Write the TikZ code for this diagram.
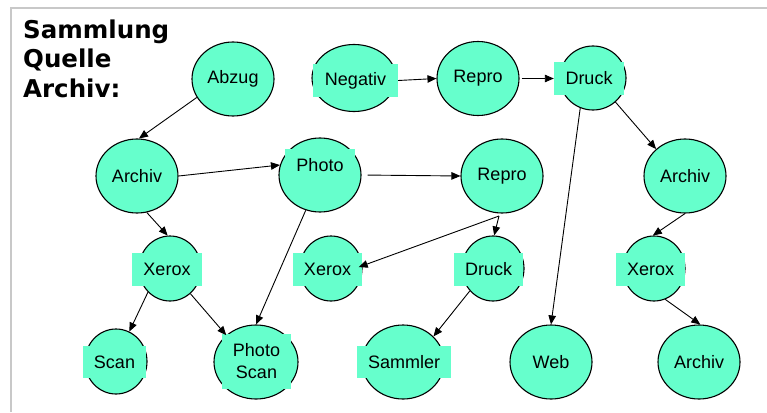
\documentclass[tikz,border=0pt]{standalone}
\usepackage{fontspec}
\setmainfont{Liberation Sans}
\newfontfamily\titlefont{DejaVu Sans}
\usetikzlibrary{shapes.geometric,arrows.meta}
\definecolor{aqua}{HTML}{66FFCC}
\definecolor{framegray}{HTML}{C8C8C8}
\tikzset{
  ell/.style={ellipse, draw=black, fill=aqua, line width=1.1pt, inner sep=0pt, minimum width=82pt, minimum height=74pt},
  ells/.style={ell, minimum width=62pt, minimum height=65pt},
  txt/.style={inner sep=0pt, font=\fontsize{18}{22}\selectfont},
  lbl/.style={txt, fill=aqua, minimum height=33pt},
  ttl/.style={anchor=base west, inner sep=0pt, font=\titlefont\bfseries\fontsize{24.5}{29}\selectfont},
  arr/.style={-{Triangle[length=9pt,width=7.5pt]}, line width=0.9pt},
}
\begin{document}
\begin{tikzpicture}[x=1pt,y=-1pt]
\useasboundingbox (0,0) rectangle (767,412);
\draw[framegray, line width=2pt] (11,412) -- (11,8) -- (767,8);
% title
\node[ttl] (t1) at (23,38) {Sammlung};
\node[ttl] (t2) at (23,67.5) {Quelle};
\node[ttl] (t3) at (23,97) {Archiv:};
% ellipses
\node[ell] (abzug) at (233,79) {};
\node[ell, minimum width=84pt, minimum height=67pt] (neg) at (354,78) {};
\node[ell] (reproT) at (478,78.5) {};
\node[ell, minimum width=66pt, minimum height=64pt] (druckT) at (593,78) {};
\node[ell] (archivL) at (137,176) {};
\node[ell] (photo) at (320,175) {};
\node[ell] (reproM) at (502,176) {};
\node[ell] (archivR) at (685,176) {};
\node[ells] (xeroxL) at (170,268.5) {};
\node[ells] (xeroxM) at (331,268.5) {};
\node[ells] (druckM) at (493,268.5) {};
\node[ells] (xeroxR) at (654,268.5) {};
\node[ells] (scan) at (116,361.5) {};
\node[ell, minimum width=84pt] (pscan) at (256,362) {};
\node[ell] (sammler) at (403,362) {};
\node[ell] (web) at (551,362) {};
\node[ell] (archivB) at (699,362) {};
% labels
\node[txt] (abzugL) at (abzug) {Abzug};
\node[lbl, minimum width=85pt] (negL) at (355.5,80.5) {Negativ};
\node[txt] (reproTL) at (reproT) {Repro};
\node[lbl, minimum width=70pt] (druckTL) at (589,78.5) {Druck};
\node[txt] (archivLL) at (archivL) {Archiv};
\node[lbl, minimum width=70pt] (photoL) at (320,165.5) {Photo};
\node[txt] (reproML) at (reproM) {Repro};
\node[txt] (archivRL) at (archivR) {Archiv};
\node[lbl, minimum width=70pt] (xeroxLL) at (167,269.5) {Xerox};
\node[lbl, minimum width=69pt] (xeroxML) at (327.5,269.5) {Xerox};
\node[lbl, minimum width=69pt] (druckML) at (488.5,269.5) {Druck};
\node[lbl, minimum width=69pt] (xeroxRL) at (650.5,269.5) {Xerox};
\node[lbl, minimum width=63pt, minimum height=32pt] (scanL) at (114.5,362) {Scan};
\node[lbl, minimum width=69pt, minimum height=55pt, align=center] (pscanL) at (256.5,361.5) {Photo\\Scan};
\node[lbl, minimum width=94pt, minimum height=32pt] (sammlerL) at (404,362) {Sammler};
\node[txt] (webL) at (web) {Web};
\node[txt] (archivBL) at (archivB) {Archiv};
\coordinate (fork) at (499,216);
% connectors
\draw[arr] (abzug.207) -- (archivL.87);
\draw[arr] (archivL.0) -- (photo.166);
\draw[arr, shorten <=6pt] (photo.0) -- (reproM.west);
\draw[arr] (negL.east) -- (reproT.west);
\draw[arr, shorten <=2pt] (reproT.east) -- (druckTL.west);
\draw[arr] (druckT.-47) -- (archivR.137);
\draw[arr] (druckT.247) -- (web.90);
\draw[arr] (archivL.285) -- (xeroxL.94);
\draw[arr] (photo.248) -- (pscan.90);
\draw[arr] (xeroxL.227) -- (scan.66);
\draw[arr] (xeroxL.-51) -- (pscan.138);
\draw[arr, shorten >=-4pt] (fork) -- (xeroxM.5);
\draw[arr] (fork) -- (druckM.88);
\draw[arr] (druckM.224) -- (sammler.40);
\draw[arr] (archivR.270) -- (xeroxR.92);
\draw[arr] (xeroxR.290) -- (archivB.88);
\end{tikzpicture}
\end{document}
